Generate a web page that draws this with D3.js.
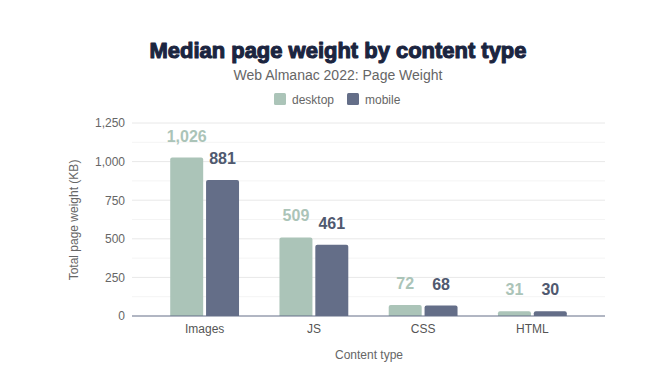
<!DOCTYPE html>
<html><head><meta charset="utf-8">
<script src="https://cdn.jsdelivr.net/npm/d3@7"></script>
<style>body{margin:0;background:#fff;}svg{display:block;font-family:"Liberation Sans",Arial,sans-serif;}</style>
</head><body>
<svg id="c" width="650" height="376"></svg>
<script>
const categories = ["Images", "JS", "CSS", "HTML"];
const seriesNames = ["desktop", "mobile"];
const desktop = [1026, 509, 72, 31];
const mobile = [881, 461, 68, 30];
const yTicks = [0, 250, 500, 750, 1000, 1250];
const colors = {desktop: "#abc4b8", mobile: "#646e88"};
const labelColors = {desktop: "#abc4b8", mobile: "#4f596f"};

const svg = d3.select("#c");
svg.append("rect").attr("width",650).attr("height",376).attr("fill","#fff");

const x0 = d3.scaleBand().domain(categories).range([150, 587]).paddingInner(0.37).paddingOuter(0.185);
const x1 = d3.scaleBand().domain(seriesNames).range([0, x0.bandwidth()]).paddingInner(0.08);
const y = d3.scaleLinear().domain([0, 1250]).range([316, 123]);

// gridlines
const minor = d3.range(125, 1250, 250);
svg.append("g").selectAll("line").data(minor).join("line")
  .attr("x1",132).attr("x2",605).attr("y1",d=>y(d)).attr("y2",d=>y(d))
  .attr("stroke","#f4f4f4").attr("stroke-width",1);
svg.append("g").selectAll("line").data(yTicks.filter(d=>d>0)).join("line")
  .attr("x1",132).attr("x2",605).attr("y1",d=>y(d)).attr("y2",d=>y(d))
  .attr("stroke","#e8e8e8").attr("stroke-width",1);

// y axis labels
const yAxis = d3.axisLeft(y).tickValues(yTicks).tickSize(0).tickPadding(7).tickFormat(d3.format(","));
const ya = svg.append("g").attr("transform","translate(132,0)").call(yAxis);
ya.select(".domain").remove();
ya.selectAll("text").attr("fill","#666").attr("font-size",12).attr("font-family","Liberation Sans, Arial, sans-serif");

// bars
const data = categories.map((c,i)=>({cat:c, vals:[{k:"desktop",v:desktop[i]},{k:"mobile",v:mobile[i]}]}));
const g = svg.append("g").selectAll("g").data(data).join("g").attr("transform",d=>`translate(${x0(d.cat)},0)`);
g.selectAll("path").data(d=>d.vals).join("path")
  .attr("fill",d=>colors[d.k])
  .attr("d",d=>{
    const xx=x1(d.k), w=x1.bandwidth(), top=y(d.v), bot=y(0), r=Math.min(2, (bot-top)/2);
    return `M${xx},${bot}V${top+r}Q${xx},${top} ${xx+r},${top}H${xx+w-r}Q${xx+w},${top} ${xx+w},${top+r}V${bot}Z`;
  });
g.selectAll("text").data(d=>d.vals).join("text")
  .attr("x",d=>x1(d.k)+x1.bandwidth()/2)
  .attr("y",d=>y(d.v)-16)
  .attr("text-anchor","middle")
  .attr("font-size",16).attr("font-weight","bold")
  .attr("fill",d=>labelColors[d.k])
  .text(d=>d3.format(",")(d.v));

// x axis
const xa = svg.append("g").attr("transform","translate(0,316)").call(d3.axisBottom(x0).tickSize(0).tickPadding(8));
xa.select(".domain").remove();
svg.append("line").attr("x1",132).attr("x2",605).attr("y1",316).attr("y2",316).attr("stroke","#646e88").attr("stroke-width",1.2);
xa.selectAll("text").attr("fill","#555").attr("font-size",12).attr("font-family","Liberation Sans, Arial, sans-serif");

// axis titles
svg.append("text").attr("x",369).attr("y",359).attr("text-anchor","middle").attr("fill","#666").attr("font-size",12).text("Content type");
svg.append("text").attr("transform","translate(78,220) rotate(-90)").attr("text-anchor","middle").attr("fill","#666").attr("font-size",12).text("Total page weight (KB)");

// title
svg.append("text").attr("x",338).attr("y",58).attr("text-anchor","middle").attr("fill","#1b2540")
  .attr("stroke","#1b2540").attr("stroke-width",1.1).attr("stroke-linejoin","round")
  .attr("font-family","Liberation Sans, Arial, sans-serif").attr("font-weight","bold").attr("font-size",22)
  .attr("textLength",377).attr("lengthAdjust","spacingAndGlyphs")
  .text("Median page weight by content type");
svg.append("text").attr("x",338).attr("y",80).attr("text-anchor","middle").attr("fill","#666").attr("font-size",14).text("Web Almanac 2022: Page Weight");

// legend
const leg = svg.append("g");
const legX = [274, 347];
seriesNames.forEach((s,i)=>{
  leg.append("rect").attr("x",legX[i]).attr("y",93).attr("width",12).attr("height",12).attr("rx",1.5).attr("fill",colors[s]);
  leg.append("text").attr("x",legX[i]+18).attr("y",103.5).attr("fill","#666").attr("font-size",12).text(s);
});
</script>
</body></html>
